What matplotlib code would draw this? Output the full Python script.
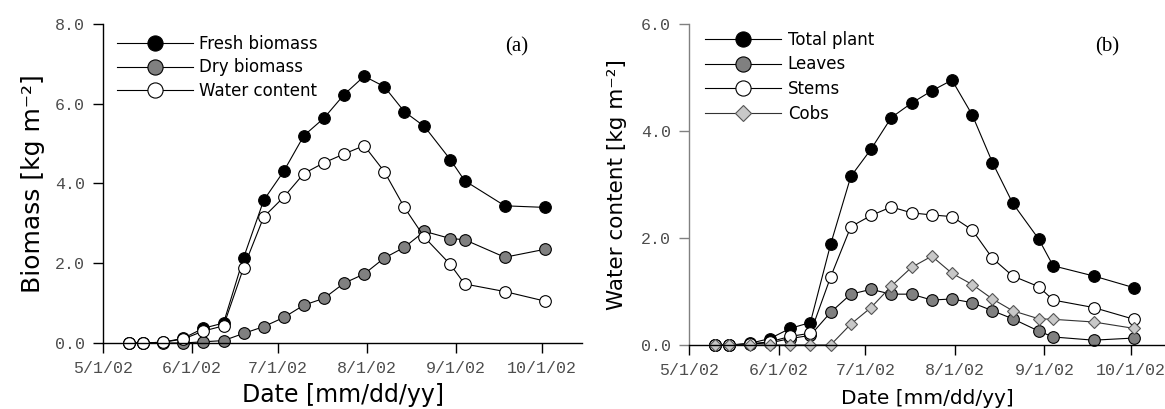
import datetime as dt
import matplotlib
matplotlib.use('Agg')
import matplotlib.pyplot as plt

# sampling dates (weekly, 2002)
dates = ['2002-05-10', '2002-05-15', '2002-05-22', '2002-05-29', '2002-06-05',
         '2002-06-12', '2002-06-19', '2002-06-26', '2002-07-03', '2002-07-10',
         '2002-07-17', '2002-07-24', '2002-07-31', '2002-08-07', '2002-08-14',
         '2002-08-21', '2002-08-30', '2002-09-04', '2002-09-18', '2002-10-02']

# panel (a) biomass [kg m-2]
fresh = [0.0, 0.0, 0.02, 0.12, 0.37, 0.50, 2.14, 3.58, 4.31, 5.20,
         5.64, 6.23, 6.69, 6.43, 5.80, 5.43, 4.60, 4.07, 3.44, 3.40]
dry = [0.0, 0.0, 0.0, 0.0, 0.03, 0.06, 0.24, 0.41, 0.64, 0.95,
       1.12, 1.50, 1.73, 2.13, 2.40, 2.80, 2.62, 2.59, 2.15, 2.35]
water = [0.0, 0.0, 0.02, 0.10, 0.30, 0.43, 1.89, 3.16, 3.66, 4.25,
         4.52, 4.74, 4.95, 4.30, 3.40, 2.65, 1.97, 1.48, 1.29, 1.05]

# panel (b) water content [kg m-2]
total = [0.0, 0.0, 0.03, 0.12, 0.31, 0.42, 1.88, 3.15, 3.66, 4.25,
         4.52, 4.75, 4.95, 4.30, 3.41, 2.65, 1.98, 1.48, 1.29, 1.07]
leaves = [0.0, 0.0, 0.02, 0.04, 0.12, 0.18, 0.61, 0.95, 1.04, 0.95,
          0.95, 0.84, 0.86, 0.79, 0.64, 0.49, 0.26, 0.15, 0.09, 0.13]
stems = [0.0, 0.0, 0.02, 0.06, 0.16, 0.22, 1.27, 2.21, 2.42, 2.58,
         2.47, 2.43, 2.40, 2.15, 1.62, 1.29, 1.09, 0.84, 0.70, 0.48]
cobs = [0.0, 0.0, 0.0, 0.0, 0.0, 0.0, 0.0, 0.39, 0.70, 1.10,
        1.45, 1.66, 1.34, 1.13, 0.86, 0.64, 0.49, 0.48, 0.43, 0.31]

tick_dates = ['2002-05-01', '2002-06-01', '2002-07-01', '2002-08-01', '2002-09-01', '2002-10-01']
tick_labels = ['5/1/02', '6/1/02', '7/1/02', '8/1/02', '9/1/02', '10/1/02']

x = [dt.datetime.strptime(d, '%Y-%m-%d') for d in dates]
xt = [dt.datetime.strptime(d, '%Y-%m-%d') for d in tick_dates]
start = xt[0]

mono = 'Liberation Mono'
tick_col = '#4d4d4d'

fig = plt.figure(figsize=(11.65, 4.09), dpi=100)
axa = fig.add_axes([0.0884, 0.1614, 0.4112, 0.780])
axb = fig.add_axes([0.5914, 0.1565, 0.4086, 0.785])


def style(ax, ymax, yticks, days, spine_col, lab_size, ylab, xpad, ypad):
    ax.set_xlim(start, start + dt.timedelta(days=days))
    ax.set_ylim(0, ymax)
    ax.set_xticks(xt)
    ax.set_xticklabels(tick_labels)
    ax.set_yticks(yticks)
    ax.set_yticklabels(['%.1f' % v for v in yticks])
    for s in ['top', 'right']:
        ax.spines[s].set_visible(False)
    ax.spines['left'].set_color(spine_col)
    ax.spines['bottom'].set_color('black')
    for s in ['left', 'bottom']:
        ax.spines[s].set_linewidth(1.0)
    ax.tick_params(axis='both', direction='out', length=7, width=1.0,
                   labelsize=12, labelcolor=tick_col)
    ax.tick_params(axis='y', pad=6, color=spine_col)
    ax.tick_params(axis='x', pad=6)
    for lab in ax.get_xticklabels() + ax.get_yticklabels():
        lab.set_family(mono)
    ax.set_xlabel('Date [mm/dd/yy]', fontsize=lab_size, labelpad=xpad)
    ax.set_ylabel(ylab, fontsize=lab_size + 1, labelpad=ypad)


ms = 8.4
kw = dict(color='black', lw=0.8, mec='black', mew=0.8, ms=ms, clip_on=False)

# panel (a)
axa.plot(x, fresh, marker='o', mfc='black', label='Fresh biomass', **kw)
axa.plot(x, dry, marker='o', mfc='#808080', label='Dry biomass', **kw)
axa.plot(x, water, marker='o', mfc='white', label='Water content', **kw)
style(axa, 8, [0, 2, 4, 6, 8], 166.9, 'black', 17, 'Biomass [kg m⁻²]', 5, 7)
axa.legend(loc='upper left', bbox_to_anchor=(0.029, 0.966), frameon=False,
           fontsize=12, handlelength=4.55, handletextpad=0.4, labelspacing=0.34,
           borderpad=0, borderaxespad=0, markerscale=1.3)
axa.text(0.864, 0.928, '(a)', transform=axa.transAxes, ha='center', va='center',
         fontsize=15, family='Liberation Serif')

# panel (b)
axb.plot(x, total, marker='o', mfc='black', label='Total plant', **kw)
axb.plot(x, leaves, marker='o', mfc='#808080', label='Leaves', **kw)
axb.plot(x, stems, marker='o', mfc='white', label='Stems', **kw)
axb.plot(x, cobs, marker='D', mfc='#c8c8c8', color='#333333', lw=0.8, mec='#555555',
         mew=0.8, ms=6, clip_on=False, label='Cobs')
style(axb, 6, [0, 2, 4, 6], 164.7, '#808080', 14.5, 'Water content [kg m⁻²]', 8, 10)
axb.legend(loc='upper left', bbox_to_anchor=(0.034, 0.979), frameon=False,
           fontsize=12, handlelength=4.55, handletextpad=0.4, labelspacing=0.4,
           borderpad=0, borderaxespad=0, markerscale=1.3)
axb.text(0.878, 0.928, '(b)', transform=axb.transAxes, ha='center', va='center',
         fontsize=15, family='Liberation Serif')

fig.savefig('out.png', dpi=100)
